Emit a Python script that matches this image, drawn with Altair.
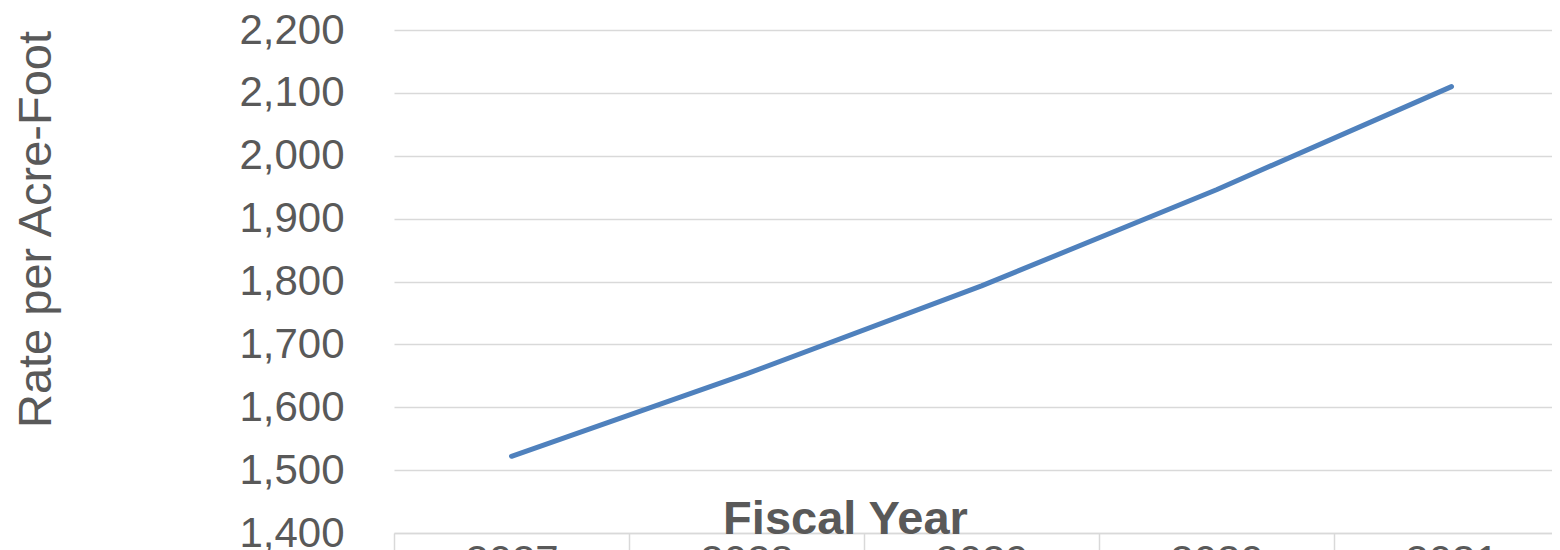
import altair as alt
import pandas as pd

years = ["2027", "2028", "2029", "2030", "2031"]
rates = [1522, 1653, 1793, 1946, 2110]

df = pd.DataFrame({"year": years, "rate": rates})

FONT = "Liberation Sans"
GREY = "#595959"
GRID = "#d9d9d9"

chart = alt.Chart(df).mark_line(
    color="#4f81bd", strokeWidth=5, strokeCap="round", strokeJoin="round"
).encode(
    x=alt.X(
        "year:N",
        sort=years,
        scale=alt.Scale(range=[0, 1175], paddingInner=0, paddingOuter=0),
        axis=alt.Axis(
            title="Fiscal Year",
            titleFont=FONT,
            titleFontSize=47,
            titleFontWeight="bold",
            titleColor=GREY,
            titleX=451,
            titleY=0,
            titleBaseline="alphabetic",
            titleAlign="center",
            labelFont=FONT,
            labelFontSize=42,
            labelColor=GREY,
            labelAngle=0,
            labelPadding=-12,
            labelBaseline="top",
            domainColor=GRID,
            domainWidth=1.5,
            ticks=True,
            tickBand="extent",
            tickColor=GRID,
            tickWidth=1.5,
            tickSize=20,
            grid=False,
        ),
    ),
    y=alt.Y(
        "rate:Q",
        scale=alt.Scale(domain=[1400, 2200], nice=False, zero=False),
        axis=alt.Axis(
            title="Rate per Acre-Foot",
            titleFont=FONT,
            titleFontSize=47,
            titleFontWeight="normal",
            titleColor=GREY,
            titleAngle=270,
            titleX=-344,
            titleY=199,
            titleBaseline="alphabetic",
            titleAlign="center",
            values=[1400, 1500, 1600, 1700, 1800, 1900, 2000, 2100, 2200],
            format=",.0f",
            labelFont=FONT,
            labelFontSize=42,
            labelColor=GREY,
            labelPadding=50,
            ticks=False,
            tickSize=0,
            domain=False,
            grid=True,
            gridColor=GRID,
            gridWidth=1.5,
        ),
    ),
).properties(
    width=1158,
    height=503,
    autosize=alt.AutoSizeParams(type="none"),
    padding={"left": 386, "top": 22, "right": 0, "bottom": 40},
).configure_view(stroke=None)

chart.save("out.html", embed_options={"renderer": "svg", "actions": False})
